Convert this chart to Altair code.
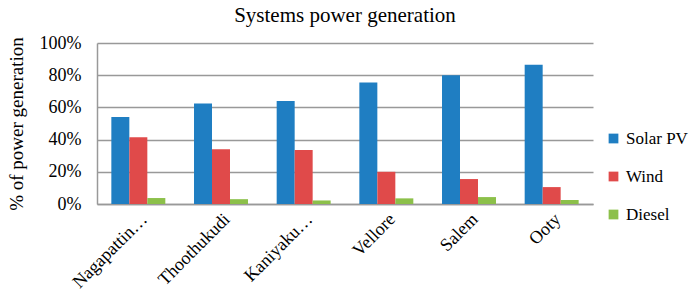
import altair as alt
import pandas as pd

cities = ["Nagapattinam", "Thoothukudi", "Kaniyakumari", "Vellore", "Salem", "Ooty"]
series = ["Solar PV", "Wind", "Diesel"]
solar = [0.54, 0.625, 0.64, 0.755, 0.80, 0.865]
wind = [0.415, 0.34, 0.335, 0.20, 0.155, 0.105]
diesel = [0.037, 0.03, 0.022, 0.035, 0.043, 0.025]
colors = ["#1F7EC2", "#E04A4A", "#8CC04A"]

rows = []
for i, c in enumerate(cities):
    for s, vals in zip(series, [solar, wind, diesel]):
        rows.append({"city": c, "series": s, "value": vals[i]})
df = pd.DataFrame(rows)

FONT = "Liberation Serif"
label_expr = ("datum.label == 'Nagapattinam' ? 'Nagapattin\u2026' : "
              "datum.label == 'Kaniyakumari' ? 'Kaniyaku\u2026' : datum.label")

chart = alt.Chart(df).mark_bar().encode(
    x=alt.X("city:N", sort=cities, title=None,
            scale=alt.Scale(paddingInner=0.347, paddingOuter=0.1735),
            axis=alt.Axis(labelAngle=-45, labelFontSize=18,
                          labelColor="black", labelExpr=label_expr,
                          labelLimit=300, labelPadding=6,
                          ticks=False, domainColor="#999999", domainWidth=1.5,
                          grid=False)),
    xOffset=alt.XOffset("series:N", sort=series),
    y=alt.Y("value:Q", title="% of power generation",
            scale=alt.Scale(domain=[0, 1]),
            axis=alt.Axis(format=".0%", values=[0, 0.2, 0.4, 0.6, 0.8, 1.0],
                          labelFontSize=18, labelColor="black",
                          titleFontSize=19, titleFontWeight="normal",
                          titleColor="black", titlePadding=13,
                          ticks=False, labelPadding=16,
                          domainColor="#999999", domainWidth=1.5,
                          gridColor="#999999", gridWidth=1.5)),
    color=alt.Color("series:N", sort=series,
                    scale=alt.Scale(domain=series, range=colors),
                    legend=alt.Legend(title=None, orient="none", legendX=508, legendY=87,
                                      symbolType="square", symbolSize=95,
                                      symbolStrokeWidth=0,
                                      labelFont=FONT, labelFontSize=17,
                                      labelColor="black", rowPadding=20,
                                      labelOffset=4)),
).properties(
    width=496, height=161,
    title=alt.TitleParams("Systems power generation", fontSize=21,
                          fontWeight="normal", color="black", anchor="middle",
                          frame="group", offset=8),
    autosize=alt.AutoSizeParams(type="none"),
    padding={"left": 89, "top": 35, "right": 98, "bottom": 86},
).configure(font=FONT).configure_axis(labelFont=FONT, titleFont=FONT).configure_legend(
    labelFont=FONT).configure_title(font=FONT).configure_view(stroke=None)

chart.save("out.html", embed_options={"renderer": "svg", "actions": False})
